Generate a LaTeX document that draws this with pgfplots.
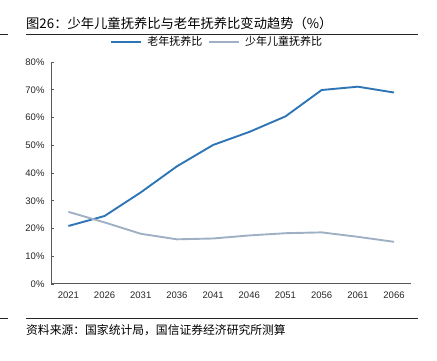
\documentclass[border=0pt]{standalone}
\usepackage{pgfplots}
\pgfplotsset{compat=1.18}
\usepackage{fontspec}
\setmainfont{Liberation Sans}
\newfontfamily\cjk{Noto Sans CJK SC}
\definecolor{oldblue}{RGB}{46,117,182}
\definecolor{younggray}{RGB}{160,176,196}
\definecolor{axisgray}{RGB}{89,89,89}
\begin{document}
\begin{tikzpicture}[x=1pt,y=1pt]
\useasboundingbox (0,0) rectangle (437,361);
% title
\node[anchor=west,inner sep=0pt] at (26,338) {\cjk\fontsize{13.3}{15}\selectfont 图26：少年儿童抚养比与老年抚养比变动趋势（\%）};
\draw[line width=0.9pt,black!85] (26,327) -- (418,327);
\draw[line width=0.9pt,black!85] (0,327) -- (8,327);
% source
\draw[line width=0.9pt,black!85] (26,43) -- (418,43);
\draw[line width=0.9pt,black!85] (0,43) -- (8,43);
\node[anchor=west,inner sep=0pt] at (26,31) {\cjk\fontsize{11.8}{14}\selectfont 资料来源：国家统计局，国信证券经济研究所测算};
\begin{axis}[
  at={(51pt,77pt)}, anchor=south west,
  scale only axis, width=360pt, height=222pt,
  xmin=-0.48, xmax=9.47, ymin=0, ymax=80,
  axis x line=bottom, axis y line=left,
  axis line style={axisgray, line width=1pt, -},
  xtick={0,...,9},
  xticklabels={2021,2026,2031,2036,2041,2046,2051,2056,2061,2066},
  ytick={0,10,...,80},
  yticklabels={0\%,10\%,20\%,30\%,40\%,50\%,60\%,70\%,80\%},
  x tick style={draw=none},
  y tick style={axisgray, line width=0.8pt},
  tick align=inside, major tick length=3pt,
  ticklabel style={font=\fontsize{9.5}{10}\selectfont, text=black!85},
  xticklabel style={yshift=-4pt},
  yticklabel style={xshift=-3pt},
  legend columns=2,
  legend style={at={(0.462,1.09)}, anchor=center, draw=none, fill=none,
    font=\cjk\fontsize{11}{13}\selectfont, column sep=3pt,
    /tikz/every even column/.append style={column sep=4pt}},
  legend image code/.code={\draw[#1] (0pt,0pt) -- (30pt,0pt);},
]
\addplot[oldblue, line width=1.9pt] coordinates {
 (0,20.9) (1,24.5) (2,33.0) (3,42.4) (4,50.1) (5,54.8) (6,60.4) (7,69.9) (8,71.1) (9,69.0)};
\addlegendentry{老年抚养比}
\addplot[younggray, line width=1.9pt] coordinates {
 (0,26.0) (1,22.2) (2,18.1) (3,16.1) (4,16.4) (5,17.5) (6,18.3) (7,18.6) (8,17.0) (9,15.2)};
\addlegendentry{少年儿童抚养比}
\end{axis}
\end{tikzpicture}
\end{document}
